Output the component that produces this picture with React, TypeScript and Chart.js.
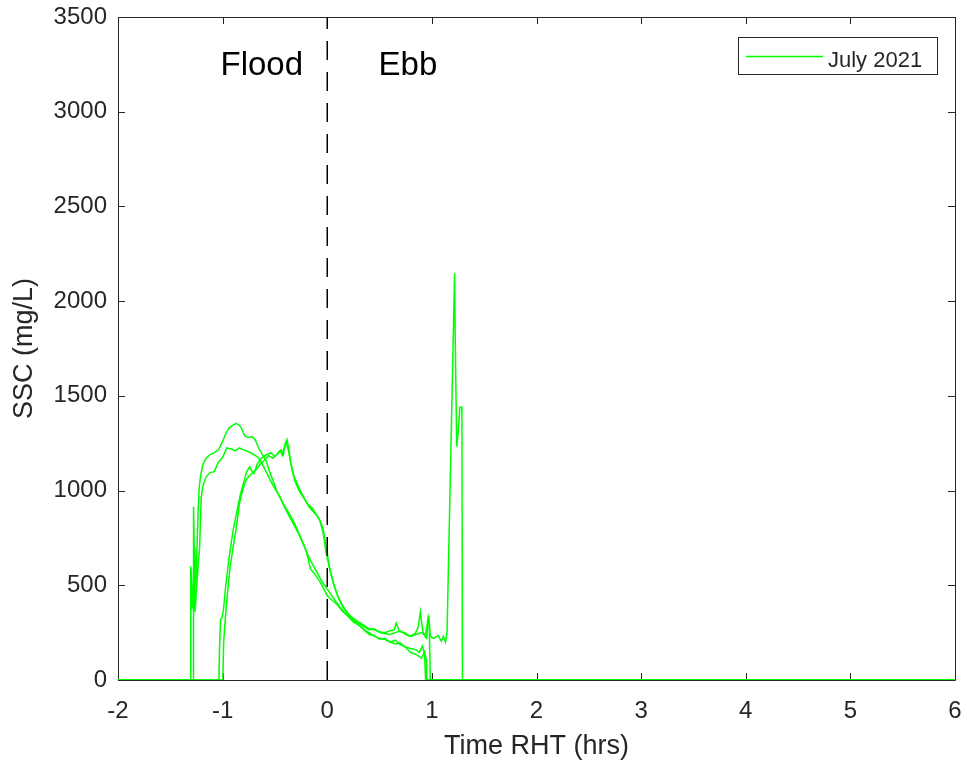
import React, { useEffect, useRef } from "react";
import { Chart, registerables } from "chart.js";

Chart.register(...registerables);

// ---------- data ----------
const SERIES_LABEL = "July 2021";
const X_TICKS = [-2, -1, 0, 1, 2, 3, 4, 5, 6];
const Y_TICKS = [0, 500, 1000, 1500, 2000, 2500, 3000, 3500];

// each pass: [time RHT (hrs), SSC (mg/L)]
const PASS_A: [number, number][] = [
  [-2, 0], [-1.31, 0], [-1.305, 600], [-1.298, 560], [-1.292, 380], [-1.285, 420], [-1.275, 560],
  [-1.265, 660], [-1.255, 490], [-1.245, 700], [-1.235, 870], [-1.225, 1010], [-1.21, 1080],
  [-1.19, 1135], [-1.16, 1170], [-1.12, 1190], [-1.08, 1200], [-1.04, 1215], [-1.0, 1260],
  [-0.97, 1300], [-0.94, 1330], [-0.9, 1345], [-0.87, 1355], [-0.84, 1345], [-0.82, 1330],
  [-0.79, 1290], [-0.76, 1280], [-0.72, 1285], [-0.69, 1270], [-0.66, 1230], [-0.62, 1190],
  [-0.59, 1165], [-0.55, 1100], [-0.51, 1040], [-0.48, 995], [-0.44, 950], [-0.4, 905],
  [-0.35, 850], [-0.3, 800], [-0.25, 745], [-0.2, 680], [-0.16, 630], [-0.1, 570],
  [-0.05, 520], [0, 480], [0.05, 440], [0.1, 400], [0.15, 365], [0.2, 340], [0.25, 320],
  [0.3, 300], [0.35, 280], [0.4, 265], [0.45, 270], [0.5, 250], [0.55, 245], [0.6, 240],
  [0.65, 250], [0.7, 260], [0.75, 240], [0.8, 230], [0.85, 240], [0.9, 250], [0.94, 240],
  [0.965, 330], [0.975, 290], [0.985, 0], [6, 0],
];

const PASS_B: [number, number][] = [
  [-2, 0], [-1.282, 0], [-1.278, 915], [-1.272, 700], [-1.266, 360], [-1.258, 400], [-1.25, 480],
  [-1.235, 600], [-1.22, 700], [-1.205, 960], [-1.19, 1020], [-1.16, 1070], [-1.12, 1095],
  [-1.08, 1100], [-1.04, 1150], [-1.0, 1175], [-0.96, 1225], [-0.92, 1220], [-0.88, 1210],
  [-0.84, 1225], [-0.8, 1215], [-0.75, 1205], [-0.7, 1190], [-0.66, 1175], [-0.62, 1140],
  [-0.58, 1095], [-0.54, 1050], [-0.5, 1010], [-0.46, 975], [-0.42, 930], [-0.37, 885],
  [-0.32, 835], [-0.26, 760], [-0.2, 680], [-0.16, 585], [-0.12, 560], [-0.06, 510],
  [0, 445], [0.05, 420], [0.1, 395], [0.15, 360], [0.2, 335], [0.25, 305], [0.3, 290],
  [0.35, 265], [0.4, 240], [0.45, 235], [0.5, 215], [0.55, 220], [0.6, 200], [0.65, 190],
  [0.7, 195], [0.75, 170], [0.8, 145], [0.85, 135], [0.9, 115], [0.93, 150], [0.945, 110],
  [0.95, 0], [6, 0],
];

const PASS_C: [number, number][] = [
  [-2, 0], [-1.035, 0], [-1.03, 160], [-1.02, 320], [-1.005, 330], [-0.99, 380], [-0.97, 500],
  [-0.94, 640], [-0.9, 790], [-0.86, 900], [-0.83, 980], [-0.8, 1040], [-0.77, 1100],
  [-0.74, 1125], [-0.72, 1100], [-0.7, 1090], [-0.67, 1140], [-0.63, 1170], [-0.58, 1190],
  [-0.54, 1200], [-0.5, 1180], [-0.47, 1200], [-0.44, 1215], [-0.42, 1190], [-0.4, 1250],
  [-0.385, 1270], [-0.37, 1230], [-0.35, 1150], [-0.32, 1080], [-0.29, 1040], [-0.25, 990],
  [-0.21, 950], [-0.17, 910], [-0.12, 880], [-0.08, 855], [-0.04, 800], [-0.01, 700],
  [0.02, 600], [0.06, 510], [0.1, 445], [0.15, 385], [0.2, 345], [0.25, 315], [0.3, 290],
  [0.35, 265], [0.4, 250], [0.45, 230], [0.5, 220], [0.55, 215], [0.6, 200], [0.65, 210],
  [0.7, 185], [0.75, 175], [0.8, 165], [0.85, 160], [0.88, 145], [0.91, 180], [0.93, 135],
  [0.94, 0], [6, 0],
];

const PASS_D: [number, number][] = [
  [-2, 0], [-0.998, 0], [-0.99, 200], [-0.975, 320], [-0.96, 420], [-0.93, 590], [-0.9, 700],
  [-0.87, 800], [-0.84, 930], [-0.81, 1000], [-0.78, 1050], [-0.75, 1075], [-0.72, 1090],
  [-0.68, 1110], [-0.64, 1140], [-0.6, 1160], [-0.56, 1185], [-0.52, 1170], [-0.48, 1190],
  [-0.45, 1210], [-0.43, 1185], [-0.41, 1230], [-0.39, 1250], [-0.37, 1210], [-0.34, 1120],
  [-0.31, 1050], [-0.27, 1000], [-0.23, 965], [-0.19, 930], [-0.15, 910], [-0.11, 880],
  [-0.07, 840], [-0.04, 780], [-0.01, 670], [0.03, 570], [0.07, 490], [0.11, 430],
  [0.15, 390], [0.2, 350], [0.25, 325], [0.3, 305], [0.35, 290], [0.4, 270], [0.45, 265],
  [0.5, 255], [0.55, 250], [0.6, 260], [0.64, 265], [0.66, 300], [0.69, 255], [0.74, 250],
  [0.79, 230], [0.84, 245], [0.87, 280], [0.89, 360], [0.905, 290], [0.92, 240], [0.95, 220],
  [0.97, 340], [0.985, 230], [1.02, 220], [1.06, 235], [1.09, 205], [1.11, 230], [1.13, 200],
  [1.145, 250], [1.217, 2147], [1.222, 1860], [1.237, 1232], [1.25, 1300], [1.268, 1440],
  [1.287, 1440], [1.292, 0], [6, 0],
];

const PASSES = [PASS_A, PASS_B, PASS_C, PASS_D];

const DIVIDER_T = [0, 0];
const DIVIDER_SSC = [0, 3500];

const PHASE_LABELS = ["Flood", "Ebb"];
const PHASE_T = [-1.02, 0.49];
const PHASE_SSC = 3195;

// ---------- styles ----------
const GREEN = "#00ff00";
const AXIS = "#262626";
const FONT = "'Liberation Sans', Arial, Helvetica, sans-serif";

const framePlugin = {
  id: "matlabFrame",
  beforeDatasetsDraw(chart: any) {
    const { ctx, chartArea: a, scales } = chart;
    ctx.save();
    ctx.strokeStyle = AXIS;
    ctx.lineWidth = 1;
    ctx.beginPath();
    ctx.rect(Math.round(a.left) + 0.5, Math.round(a.top) + 0.5, Math.round(a.right - a.left), Math.round(a.bottom - a.top));
    const tl = 7;
    X_TICKS.forEach((t) => {
      const x = Math.round(scales.x.getPixelForValue(t)) + 0.5;
      ctx.moveTo(x, a.bottom);
      ctx.lineTo(x, a.bottom - tl);
      ctx.moveTo(x, a.top);
      ctx.lineTo(x, a.top + tl);
    });
    Y_TICKS.forEach((v) => {
      const y = Math.round(scales.y.getPixelForValue(v)) + 0.5;
      ctx.moveTo(a.left, y);
      ctx.lineTo(a.left + tl, y);
      ctx.moveTo(a.right, y);
      ctx.lineTo(a.right - tl, y);
    });
    ctx.stroke();
    ctx.restore();
  },
  afterDraw(chart: any) {
    const { ctx, chartArea: a, scales } = chart;
    ctx.save();
    // phase labels
    ctx.fillStyle = "#000000";
    ctx.font = `33px ${FONT}`;
    ctx.textAlign = "left";
    ctx.textBaseline = "alphabetic";
    PHASE_LABELS.forEach((s, i) => {
      ctx.fillText(s, scales.x.getPixelForValue(PHASE_T[i]), scales.y.getPixelForValue(PHASE_SSC));
    });
    // legend
    const bw = 199, bh = 37;
    const bx = Math.round(a.right) - 18 - bw;
    const by = Math.round(a.top) + 20;
    ctx.fillStyle = "#ffffff";
    ctx.fillRect(bx, by, bw, bh);
    ctx.strokeStyle = AXIS;
    ctx.lineWidth = 1;
    ctx.strokeRect(bx + 0.5, by + 0.5, bw, bh);
    const ly = by + 19.5;
    ctx.strokeStyle = GREEN;
    ctx.lineWidth = 1.5;
    ctx.beginPath();
    ctx.moveTo(bx + 8, ly);
    ctx.lineTo(bx + 85, ly);
    ctx.stroke();
    ctx.fillStyle = AXIS;
    ctx.font = `22px ${FONT}`;
    ctx.textBaseline = "alphabetic";
    ctx.fillText(chart.data.datasets[0].label, bx + 90, by + 29.5);
    ctx.restore();
  },
};

export default function App() {
  const ref = useRef<HTMLCanvasElement | null>(null);

  useEffect(() => {
    if (!ref.current) return;
    const datasets: any[] = PASSES.map((p) => ({
      label: SERIES_LABEL,
      data: p.map(([x, y]) => ({ x, y })),
      borderColor: GREEN,
      backgroundColor: GREEN,
      borderWidth: 1.5,
      pointRadius: 0,
      showLine: true,
      tension: 0,
      order: 1,
    }));
    datasets.push({
      label: "divider",
      data: DIVIDER_T.map((x, i) => ({ x, y: DIVIDER_SSC[i] })),
      borderColor: "#000000",
      borderWidth: 1.5,
      borderDash: [19, 12],
      pointRadius: 0,
      showLine: true,
      order: 0,
    });

    const chart = new Chart(ref.current, {
      type: "scatter",
      data: { datasets },
      plugins: [framePlugin],
      options: {
        animation: false,
        responsive: false,
        maintainAspectRatio: false,
        layout: { padding: { left: 0, right: 12, top: 17, bottom: 0 } },
        plugins: {
          legend: { display: false },
          tooltip: { enabled: false },
        },
        scales: {
          x: {
            type: "linear",
            min: -2,
            max: 6,
            afterFit: (s: any) => {
              s.height = 85;
              s.paddingLeft = 0;
              s.paddingRight = 0;
            },
            afterBuildTicks: (s: any) => { s.ticks = X_TICKS.map((v) => ({ value: v })); },
            grid: { display: false, drawTicks: false },
            border: { display: false },
            ticks: {
              color: AXIS,
              font: { family: FONT, size: 24 },
              padding: 17,
              maxRotation: 0,
              callback: (v: any) => String(v),
            },
            title: {
              display: true,
              text: "Time RHT (hrs)",
              color: AXIS,
              font: { family: FONT, size: 27 },
              padding: { top: 2, bottom: 2 },
            },
          },
          y: {
            type: "linear",
            min: 0,
            max: 3500,
            afterFit: (s: any) => {
              s.width = 118;
              s.paddingTop = 0;
              s.paddingBottom = 0;
            },
            afterBuildTicks: (s: any) => { s.ticks = Y_TICKS.map((v) => ({ value: v })); },
            grid: { display: false, drawTicks: false },
            border: { display: false },
            ticks: {
              color: AXIS,
              font: { family: FONT, size: 24 },
              padding: 11,
              callback: (v: any) => String(v),
            },
            title: {
              display: true,
              text: "SSC (mg/L)",
              color: AXIS,
              font: { family: FONT, size: 27 },
              padding: { top: 8, bottom: 0 },
            },
          },
        },
      },
    });
    return () => chart.destroy();
  }, []);

  return (
    <div style={{ position: "fixed", left: 0, top: 0, width: 967, height: 765, background: "#fff" }}>
      <canvas ref={ref} width={967} height={765} style={{ display: "block", width: 967, height: 765 }} />
    </div>
  );
}
